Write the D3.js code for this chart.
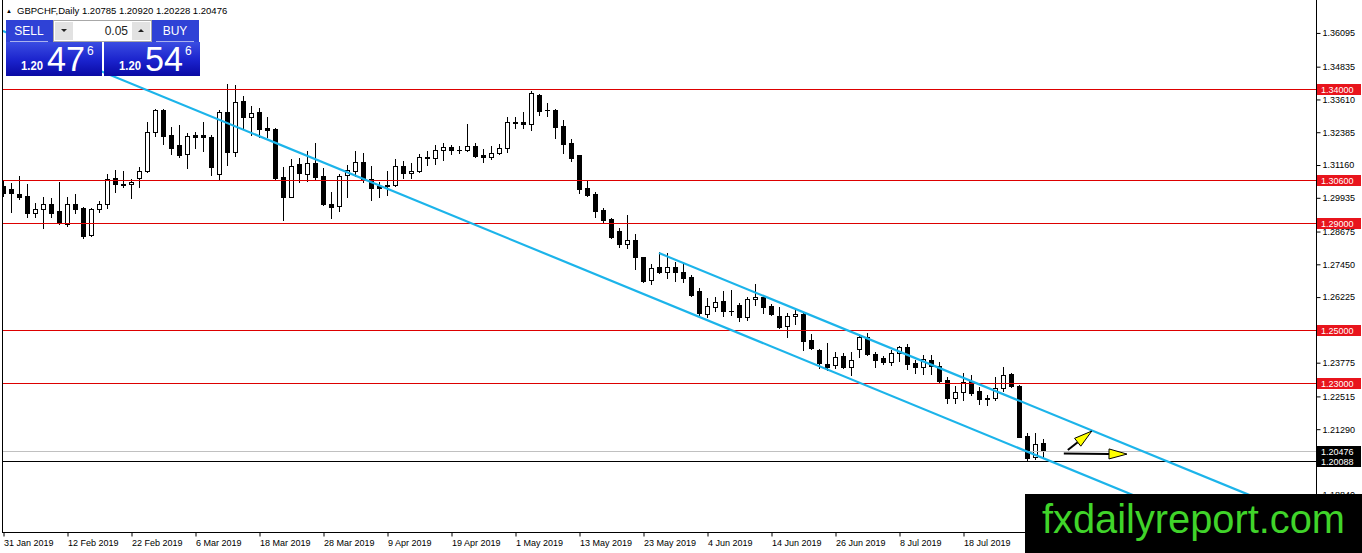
<!DOCTYPE html>
<html>
<head>
<meta charset="utf-8">
<script src="https://d3js.org/d3.v7.min.js"></script>
<style>
  html, body { margin: 0; padding: 0; background: #fff; overflow: hidden; }
  svg { display: block; font-family: "Liberation Sans", Arial, sans-serif; }
</style>
</head>
<body>
<svg id="chart"></svg>
<script>
// symbol header and the current quote
const symbol = "GBPCHF,Daily";
const firstDay = "2019-01-31";
const lotSize = "0.05";
const sellQuote = ["1.20", "47", "6"];
const buyQuote = ["1.20", "54", "6"];

// daily bars: open, high, low, close
const ohlc = [
  [1.3038,1.3060,1.3000,1.3011],[1.3026,1.3049,1.2940,1.3011],[1.3008,1.3075,1.2989,1.2997],[1.3000,1.3045,1.2922,1.2937],
  [1.2937,1.2974,1.2922,1.2952],[1.2952,1.2997,1.2881,1.2970],[1.2970,1.2993,1.2922,1.2937],[1.2944,1.3053,1.2896,1.2899],
  [1.2896,1.2997,1.2888,1.2970],[1.2970,1.3008,1.2937,1.2952],[1.2955,1.2959,1.2843,1.2851],[1.2855,1.2955,1.2851,1.2952],
  [1.2952,1.2982,1.2940,1.2970],[1.2970,1.3082,1.2955,1.3064],[1.3067,1.3097,1.3015,1.3045],[1.3045,1.3094,1.3034,1.3043],
  [1.3045,1.3064,1.2993,1.3053],[1.3067,1.3109,1.3034,1.3094],[1.3094,1.3277,1.3090,1.3239],[1.3239,1.3325,1.3224,1.3322],
  [1.3322,1.3325,1.3195,1.3224],[1.3228,1.3258,1.3157,1.3180],[1.3191,1.3266,1.3146,1.3153],[1.3157,1.3236,1.3105,1.3224],
  [1.3228,1.3239,1.3180,1.3221],[1.3228,1.3277,1.3168,1.3219],[1.3221,1.3228,1.3079,1.3109],[1.3082,1.3322,1.3060,1.3314],
  [1.3314,1.3419,1.3116,1.3165],[1.3165,1.3415,1.3150,1.3351],[1.3355,1.3374,1.3254,1.3295],[1.3295,1.3337,1.3228,1.3310],
  [1.3314,1.3330,1.3221,1.3251],[1.3254,1.3295,1.3221,1.3247],[1.3251,1.3254,1.3060,1.3067],[1.3071,1.3109,1.2911,1.2997],
  [1.2997,1.3138,1.2995,1.3112],[1.3120,1.3142,1.3053,1.3086],[1.3082,1.3168,1.3056,1.3124],[1.3124,1.3198,1.3060,1.3071],
  [1.3075,1.3105,1.2967,1.2970],[1.2970,1.3015,1.2918,1.2959],[1.2963,1.3082,1.2944,1.3075],[1.3079,1.3116,1.2997,1.3097],
  [1.3094,1.3168,1.3075,1.3127],[1.3127,1.3161,1.3053,1.3064],[1.3064,1.3112,1.2985,1.3030],[1.3038,1.3053,1.2997,1.3032],
  [1.3041,1.3094,1.3004,1.3036],[1.3041,1.3138,1.3039,1.3112],[1.3112,1.3131,1.3067,1.3086],[1.3086,1.3124,1.3067,1.3094],
  [1.3094,1.3157,1.3090,1.3146],[1.3142,1.3168,1.3116,1.3146],[1.3142,1.3191,1.3120,1.3172],[1.3172,1.3198,1.3135,1.3183],
  [1.3183,1.3191,1.3157,1.3172],[1.3172,1.3187,1.3161,1.3173],[1.3172,1.3269,1.3168,1.3187],[1.3187,1.3198,1.3146,1.3150],
  [1.3153,1.3176,1.3127,1.3146],[1.3146,1.3187,1.3138,1.3161],[1.3161,1.3195,1.3157,1.3180],[1.3180,1.3295,1.3165,1.3277],
  [1.3273,1.3295,1.3254,1.3277],[1.3277,1.3314,1.3254,1.3269],[1.3269,1.3393,1.3247,1.3385],[1.3378,1.3381,1.3303,1.3318],
  [1.3322,1.3347,1.3299,1.3320],[1.3322,1.3325,1.3217,1.3258],[1.3262,1.3284,1.3161,1.3195],[1.3198,1.3213,1.3131,1.3142],
  [1.3153,1.3153,1.3011,1.3026],[1.3030,1.3060,1.3000,1.3004],[1.3008,1.3015,1.2922,1.2944],[1.2948,1.2955,1.2903,1.2911],
  [1.2914,1.2918,1.2843,1.2847],[1.2870,1.2881,1.2810,1.2821],[1.2821,1.2929,1.2806,1.2836],[1.2836,1.2858,1.2728,1.2772],
  [1.2772,1.2772,1.2679,1.2683],[1.2686,1.2746,1.2672,1.2731],[1.2735,1.2791,1.2713,1.2716],[1.2716,1.2787,1.2694,1.2735],
  [1.2735,1.2754,1.2683,1.2716],[1.2716,1.2750,1.2679,1.2694],[1.2698,1.2705,1.2627,1.2630],[1.2645,1.2657,1.2556,1.2563],
  [1.2560,1.2619,1.2548,1.2589],[1.2586,1.2623,1.2571,1.2604],[1.2608,1.2645,1.2552,1.2571],[1.2572,1.2649,1.2556,1.2571],
  [1.2593,1.2601,1.2533,1.2548],[1.2548,1.2623,1.2537,1.2616],[1.2616,1.2672,1.2593,1.2623],[1.2623,1.2630,1.2563,1.2586],
  [1.2589,1.2597,1.2556,1.2560],[1.2552,1.2586,1.2507,1.2511],[1.2515,1.2563,1.2473,1.2552],[1.2552,1.2578,1.2522,1.2560],
  [1.2560,1.2567,1.2425,1.2459],[1.2462,1.2485,1.2429,1.2432],[1.2425,1.2429,1.2358,1.2376],[1.2373,1.2451,1.2350,1.2362],
  [1.2369,1.2418,1.2358,1.2399],[1.2403,1.2414,1.2358,1.2362],[1.2362,1.2418,1.2331,1.2388],[1.2429,1.2485,1.2399,1.2473],
  [1.2473,1.2489,1.2406,1.2410],[1.2410,1.2418,1.2362,1.2388],[1.2395,1.2403,1.2373,1.2380],[1.2380,1.2425,1.2369,1.2414],
  [1.2414,1.2440,1.2384,1.2436],[1.2436,1.2447,1.2354,1.2373],[1.2376,1.2388,1.2339,1.2362],[1.2362,1.2406,1.2335,1.2391],
  [1.2388,1.2406,1.2335,1.2365],[1.2365,1.2380,1.2302,1.2309],[1.2313,1.2324,1.2227,1.2246],[1.2246,1.2291,1.2227,1.2268],
  [1.2268,1.2339,1.2238,1.2306],[1.2309,1.2331,1.2257,1.2265],[1.2272,1.2287,1.2223,1.2242],[1.2246,1.2257,1.2220,1.2242],
  [1.2246,1.2324,1.2238,1.2283],[1.2283,1.2362,1.2272,1.2331],[1.2335,1.2339,1.2287,1.2291],[1.2291,1.2295,1.2098,1.2100],
  [1.2104,1.2115,1.2010,1.2021],[1.2025,1.2115,1.2018,1.2074],[1.20785,1.20920,1.20228,1.20476]
];

const priceTicks = [1.36095, 1.34835, 1.33610, 1.32385, 1.31160, 1.29935, 1.28675, 1.27450,
  1.26225, 1.25000, 1.23775, 1.22515, 1.21290, 1.20065, 1.18840];
const dateTicks = ["31 Jan 2019", "12 Feb 2019", "22 Feb 2019", "6 Mar 2019", "18 Mar 2019", "28 Mar 2019",
  "9 Apr 2019", "19 Apr 2019", "1 May 2019", "13 May 2019", "23 May 2019", "4 Jun 2019", "14 Jun 2019",
  "26 Jun 2019", "8 Jul 2019", "18 Jul 2019"];

// drawn objects: red levels, bid line, black line, channel rays, arrows (bar index, price)
const levels = [1.34, 1.306, 1.29, 1.25, 1.23];
const bidPrice = 1.20476;
const blackLevel = 1.20088;
const channel = [[[0, 1.3617], [130, 1.2021]], [[82, 1.2787], [130, 1.2199]]];
const arrows = [[[133.1, 1.2051], [136.1, 1.2122]], [[132.6, 1.2038], [140.5, 1.2036]]];

const width = 1362, height = 553;
const plotLeft = 2, plotRight = 1316, plotTop = 4, plotBottom = 532;

const svg = d3.select("#chart").attr("width", width).attr("height", height);
const defs = svg.append("defs");
defs.append("clipPath").attr("id", "plotClip")
  .append("rect").attr("x", plotLeft).attr("y", 0)
  .attr("width", plotRight - plotLeft).attr("height", plotBottom);

const grad = defs.append("linearGradient").attr("id", "quoteGrad")
  .attr("x1", 0).attr("y1", 0).attr("x2", 0).attr("y2", 1);
grad.append("stop").attr("offset", "0%").attr("stop-color", "#3a4de2");
grad.append("stop").attr("offset", "55%").attr("stop-color", "#1a22cc");
grad.append("stop").attr("offset", "100%").attr("stop-color", "#0a0aa4");

//scales: one bar every 8 px
const x = d3.scaleLinear().domain([0, 130]).range([3, 1043]);
const y = d3.scaleLinear().domain([1.17449, 1.37176]).range([plotBottom, plotTop]);

//trading days for the bars
const fmtDay = d3.timeFormat("%-d %b %Y");
const start = d3.timeParse("%Y-%m-%d")(firstDay);
const days = d3.timeDays(start, d3.timeDay.offset(start, 300))
  .filter(d => d.getDay() !== 0 && d.getDay() !== 6);
const bars = ohlc.map((v, i) => ({ i: i, date: days[i], o: v[0], h: v[1], l: v[2], c: v[3] }));
const tickIdx = dateTicks.map(lbl => days.findIndex(d => fmtDay(d) === lbl));

const plot = svg.append("g").attr("clip-path", "url(#plotClip)");

// candles
const cand = plot.append("g").attr("shape-rendering", "crispEdges")
  .selectAll("g").data(bars).join("g");
cand.append("line")
  .attr("x1", d => x(d.i) + 0.5).attr("x2", d => x(d.i) + 0.5)
  .attr("y1", d => Math.round(y(d.h))).attr("y2", d => Math.round(y(d.l)) + 1)
  .attr("stroke", "#000");
cand.each(function (d) {
  const g = d3.select(this);
  const top = Math.round(y(Math.max(d.o, d.c)));
  const bot = Math.round(y(Math.min(d.o, d.c)));
  if (bot - top < 1) {
    g.append("line").attr("x1", x(d.i) - 2).attr("x2", x(d.i) + 3)
      .attr("y1", top + 0.5).attr("y2", top + 0.5).attr("stroke", "#000");
  } else {
    g.append("rect").attr("x", x(d.i) - 1.5).attr("y", top + 0.5)
      .attr("width", 4).attr("height", bot - top)
      .attr("fill", d.c >= d.o ? "#fff" : "#000").attr("stroke", "#000");
  }
});

// horizontal lines
plot.selectAll("line.level").data(levels).join("line").attr("class", "level")
  .attr("x1", plotLeft).attr("x2", plotRight)
  .attr("y1", d => Math.round(y(d)) + 0.5).attr("y2", d => Math.round(y(d)) + 0.5)
  .attr("stroke", "#dd0000").attr("shape-rendering", "crispEdges");
plot.append("line").attr("x1", plotLeft).attr("x2", plotRight)
  .attr("y1", Math.round(y(bidPrice)) + 0.5).attr("y2", Math.round(y(bidPrice)) + 0.5)
  .attr("stroke", "#c0c0c0").attr("shape-rendering", "crispEdges");
plot.append("line").attr("x1", plotLeft).attr("x2", plotRight)
  .attr("y1", Math.round(y(blackLevel)) + 0.5).attr("y2", Math.round(y(blackLevel)) + 0.5)
  .attr("stroke", "#000").attr("shape-rendering", "crispEdges");

// channel rays
const iEnd = x.invert(plotRight);
channel.forEach(([[i0, p0], [i1, p1]]) => {
  const slope = (p1 - p0) / (i1 - i0);
  plot.append("line")
    .attr("x1", x(i0)).attr("y1", y(p0))
    .attr("x2", x(iEnd)).attr("y2", y(p0 + slope * (iEnd - i0)))
    .attr("stroke", "#1cb4ea").attr("stroke-width", 2.2);
});

// arrows
arrows.forEach(([[i0, p0], [i1, p1]]) => {
  const x0 = x(i0), y0 = y(p0), x1 = x(i1), y1 = y(p1);
  const ang = Math.atan2(y1 - y0, x1 - x0);
  const len = 18, half = 5;
  const bx = x1 - len * Math.cos(ang), by = y1 - len * Math.sin(ang);
  plot.append("line").attr("x1", x0).attr("y1", y0).attr("x2", bx).attr("y2", by)
    .attr("stroke", "#000").attr("stroke-width", 2);
  plot.append("path")
    .attr("d", `M${x1},${y1}L${bx + half * Math.sin(ang)},${by - half * Math.cos(ang)}L${bx - half * Math.sin(ang)},${by + half * Math.cos(ang)}Z`)
    .attr("fill", "#ffff00").attr("stroke", "#000").attr("stroke-width", 1);
});

// frame
svg.append("line").attr("x1", plotLeft + 0.5).attr("x2", plotLeft + 0.5).attr("y1", 0).attr("y2", plotBottom)
  .attr("stroke", "#000");
svg.append("line").attr("x1", plotRight + 0.5).attr("x2", plotRight + 0.5).attr("y1", 0).attr("y2", plotBottom + 1)
  .attr("stroke", "#000");
svg.append("line").attr("x1", plotLeft).attr("x2", plotRight + 1).attr("y1", plotBottom + 0.5).attr("y2", plotBottom + 0.5)
  .attr("stroke", "#000");

// price axis
const yAxis = svg.append("g").attr("transform", `translate(${plotRight + 0.5},0)`)
  .call(d3.axisRight(y).tickValues(priceTicks).tickFormat(d3.format(".5f")).tickSize(4).tickPadding(2));
yAxis.select(".domain").remove();
yAxis.selectAll("text").attr("font-size", 9).attr("font-family", "Liberation Sans, Arial, sans-serif");

// date axis
const xAxis = svg.append("g").attr("transform", `translate(0.5,${plotBottom + 0.5})`)
  .call(d3.axisBottom(x).tickValues(tickIdx).tickFormat((d, k) => dateTicks[k]).tickSize(4).tickPadding(3));
xAxis.select(".domain").remove();
xAxis.selectAll("text").attr("text-anchor", "start").attr("x", 0)
  .attr("font-size", 9).attr("font-family", "Liberation Sans, Arial, sans-serif");

// price labels on the axis
const tags = levels.map(p => ({ p: p, bg: "#e8141c" }))
  .concat([{ p: bidPrice, bg: "#000" }, { p: blackLevel, bg: "#000" }]);
const tag = svg.append("g").selectAll("g").data(tags).join("g")
  .attr("transform", d => `translate(${plotRight + 1},${Math.round(y(d.p))})`);
tag.append("rect").attr("x", 0).attr("y", -5).attr("width", 44).attr("height", 11).attr("fill", d => d.bg);
tag.append("text").attr("x", 4).attr("y", 4).attr("fill", "#fff").attr("font-size", 9)
  .text(d => d3.format(".5f")(d.p));

// header
const last = ohlc[ohlc.length - 1];
svg.append("text").attr("x", 6).attr("y", 13).attr("font-size", 6).text("▲");
svg.append("text").attr("x", 17).attr("y", 14).attr("font-size", 9.5)
  .text(symbol + "  " + last.map(d3.format(".5f")).join(" "));

// trade panel
const panel = svg.append("g");
function quoteBox(x0, hx, title, quote) {
  panel.append("rect").attr("x", hx).attr("y", 20).attr("width", 47).attr("height", 23).attr("fill", "#2f42d6");
  panel.append("rect").attr("x", x0).attr("y", 42).attr("width", 96).attr("height", 34).attr("fill", "url(#quoteGrad)");
  panel.append("line").attr("x1", hx + 4).attr("x2", hx + 42).attr("y1", 41.5).attr("y2", 41.5)
    .attr("stroke", "#aab2ee");
  panel.append("text").attr("x", hx + 23).attr("y", 35).attr("text-anchor", "middle")
    .attr("fill", "#fff").attr("font-size", 12).text(title);
  panel.append("text").attr("x", x0 + 15).attr("y", 70).attr("fill", "#fff").attr("font-size", 13)
    .attr("font-weight", "bold").attr("textLength", 22).attr("lengthAdjust", "spacingAndGlyphs").text(quote[0]);
  panel.append("text").attr("x", x0 + 41).attr("y", 71).attr("fill", "#fff").attr("font-size", 35)
    .attr("textLength", 38).attr("lengthAdjust", "spacingAndGlyphs").text(quote[1]);
  panel.append("text").attr("x", x0 + 81).attr("y", 55).attr("fill", "#fff").attr("font-size", 12).text(quote[2]);
}
quoteBox(6, 6, "SELL", sellQuote);
quoteBox(104, 152, "BUY", buyQuote);

// lot size control
panel.append("rect").attr("x", 53.5).attr("y", 20.5).attr("width", 98).attr("height", 21)
  .attr("fill", "#fff").attr("stroke", "#a8a8a8");
panel.append("rect").attr("x", 55).attr("y", 22).attr("width", 18).attr("height", 18).attr("fill", "#e2e2e2");
panel.append("rect").attr("x", 132).attr("y", 22).attr("width", 18).attr("height", 18).attr("fill", "#e2e2e2");
panel.append("path").attr("d", "M61,29L67,29L64,32Z").attr("fill", "#222");
panel.append("path").attr("d", "M138,32L144,32L141,29Z").attr("fill", "#222");
panel.append("text").attr("x", 128).attr("y", 35).attr("text-anchor", "end").attr("font-size", 12)
  .attr("fill", "#222").text(lotSize);

// watermark
svg.append("rect").attr("x", 1025).attr("y", 494).attr("width", width - 1025).attr("height", height - 494).attr("fill", "#000");
svg.append("text").attr("x", 1042).attr("y", 533).attr("font-size", 40).attr("fill", "#40d42a")
  .attr("textLength", 303).attr("lengthAdjust", "spacingAndGlyphs").text("fxdailyreport.com");
</script>
</body>
</html>
